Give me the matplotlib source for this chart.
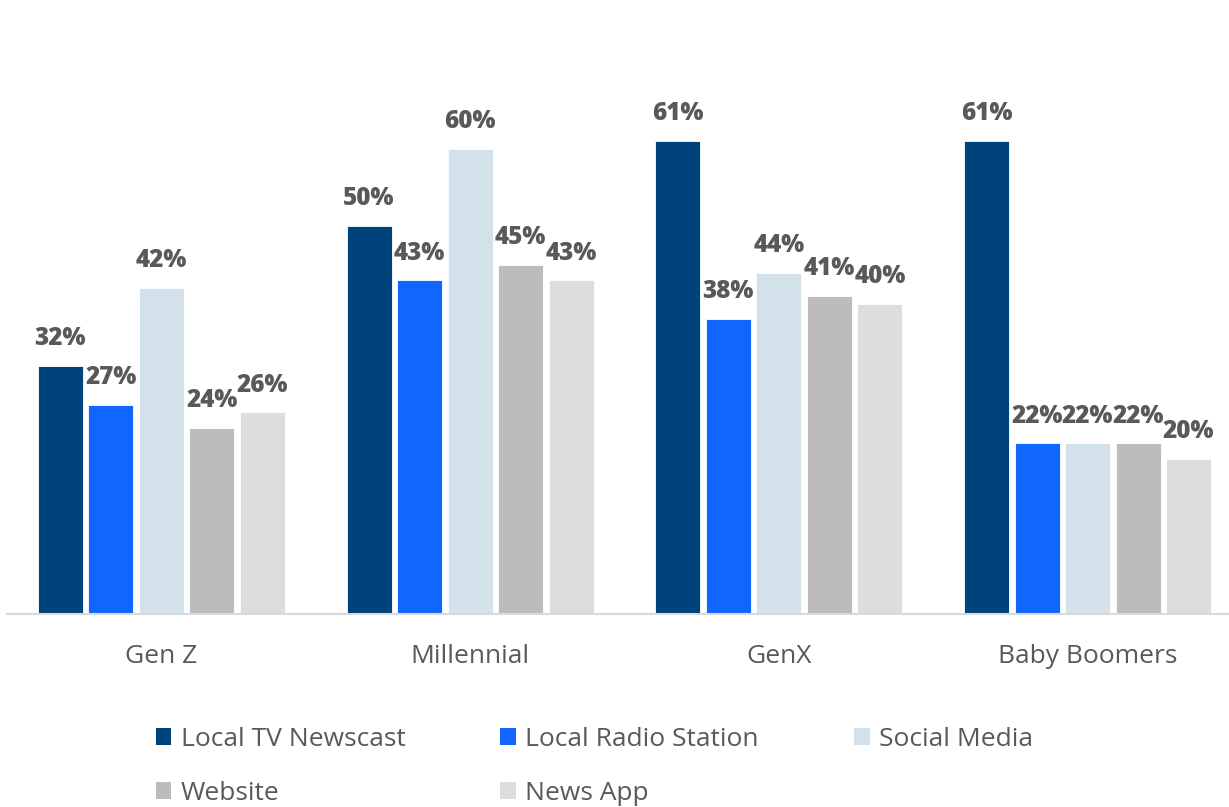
import numpy as np
import matplotlib.pyplot as plt
from matplotlib.patches import Patch

plt.rcParams['font.family'] = ['Open Sans', 'DejaVu Sans']

# ====================================
# DATA
# ====================================

generations = ['Gen Z', 'Millennial', 'GenX', 'Baby Boomers']
sources = ['Local TV Newscast', 'Local Radio Station', 'Social Media', 'Website', 'News App']

local_tv = [32, 50, 61, 61]
local_radio = [27, 43, 38, 22]
social_media = [42, 60, 44, 22]
website = [24, 45, 41, 22]
news_app = [26, 43, 40, 20]

series = [local_tv, local_radio, social_media, website, news_app]
colors = ['#00437A', '#1166FF', '#D3E1EA', '#BDBBBC', '#DDDDDD']
text_color = '#595959'

# ====================================
# PLOT
# ====================================

W, H = 1229, 807
fig = plt.figure(figsize=(W / 100, H / 100), dpi=100)
ax = fig.add_axes([7 / W, (H - 614) / H, 1235 / W, 543 / H])

x = np.arange(len(generations))
bar_w = 0.146
step = 0.1636

for i, (vals, col) in enumerate(zip(series, colors)):
    pos = x + (i - 2) * step
    ax.bar(pos, vals, width=bar_w, color=col, edgecolor='white', linewidth=0.6, zorder=2)
    for px, v in zip(pos, vals):
        ax.text(px, v + 1.9, f'{v}%', ha='center', va='bottom',
                fontsize=17.5, fontweight='heavy', color=text_color)

ax.set_xlim(-0.5, 3.5)
ax.set_ylim(0, 70)
ax.set_yticks([])
ax.set_xticks(x)
ax.set_xticklabels(generations, fontsize=19, color=text_color)
ax.tick_params(axis='x', length=0, pad=21.5)

for side in ['top', 'right', 'left']:
    ax.spines[side].set_visible(False)
ax.spines['bottom'].set_color('#D9D9D9')
ax.spines['bottom'].set_linewidth(1.5)

# legend filled column-wise, so reorder to read row by row
handles = [Patch(facecolor=c, edgecolor='none') for c in colors]
order = [0, 3, 1, 4, 2]
fig.legend([handles[i] for i in order], [sources[i] for i in order],
           loc='upper left', bbox_to_anchor=(145 / W, 1 - 716 / H),
           ncol=3, frameon=False, fontsize=19, labelcolor=text_color,
           handlelength=0.6, handleheight=0.6, handletextpad=0.35,
           columnspacing=3.6, labelspacing=1.12, borderaxespad=0)

plt.savefig('out.png', dpi=100)
plt.close()
